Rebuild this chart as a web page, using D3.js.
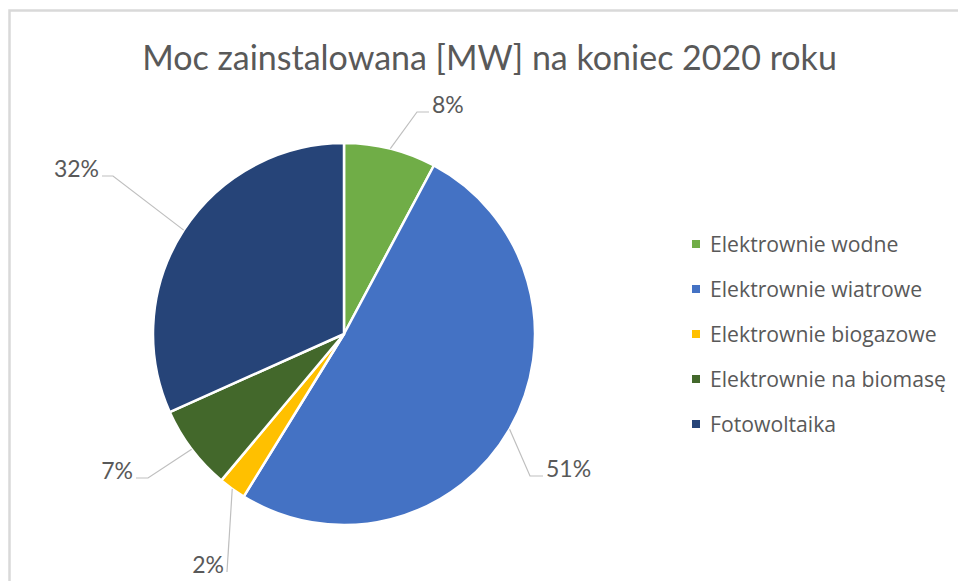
<!DOCTYPE html>
<html><head><meta charset="utf-8">
<script src="https://cdn.jsdelivr.net/npm/d3@7"></script>
<style>html,body{margin:0;padding:0;background:#fff;} svg{display:block}</style>
</head><body><svg id="c" width="958" height="581"></svg>
<script>
const title = "Moc zainstalowana [MW] na koniec 2020 roku";
const categories = ["Elektrownie wodne","Elektrownie wiatrowe","Elektrownie biogazowe","Elektrownie na biomasę","Fotowoltaika"];
const shares = [7.8, 51.0, 2.3, 7.2, 31.7];
const colors = ["#70AD47","#4472C4","#FFC000","#43682B","#264478"];
const pctLabels = ["8%","51%","2%","7%","32%"];

// layout only (label elbow offsets from pie centre, horizontal tail length)
const labelElbows = [[73,-222],[186,142],[-117,238],[-196,144],[-231,-158]];
const labelTails = [12,13,0,-12,-11];

const W = 958, H = 581;
const cx = 344, cy = 334, R = 191;
const svg = d3.select("#c");

// frame
svg.append("path").attr("d", `M9.5,${H} L9.5,10.5 L${W},10.5`)
  .attr("fill","none").attr("stroke","#d9d9d9").attr("stroke-width",2.5);

svg.append("text").attr("x", 489.5).attr("y", 70).attr("text-anchor","middle")
  .attr("font-family","Lato, 'Open Sans', sans-serif").attr("font-size",34)
  .attr("fill","#595959").text(title);

const data = categories.map((c,i)=>({cat:c, v:shares[i], color:colors[i], lab:pctLabels[i], elbow:labelElbows[i], tail:labelTails[i]}));
const pie = d3.pie().value(d=>d.v).sort(null);
const arcs = pie(data);
const arc = d3.arc().innerRadius(0).outerRadius(R);
const edge = d3.arc().innerRadius(R).outerRadius(R);

const g = svg.append("g").attr("transform",`translate(${cx},${cy})`);
g.selectAll("path.slice").data(arcs).join("path").attr("class","slice")
  .attr("d",arc).attr("fill",d=>d.data.color)
  .attr("stroke","#fff").attr("stroke-width",2.5).attr("stroke-linejoin","round");

g.selectAll("polyline").data(arcs).join("polyline")
  .attr("fill","none").attr("stroke","#bfbfbf").attr("stroke-width",1.2)
  .attr("points", d=>{
    const p = edge.centroid(d);
    const e = d.data.elbow;
    return [p, e, [e[0]+d.data.tail, e[1]]].map(q=>q.join(",")).join(" ");
  });

g.selectAll("text.lab").data(arcs).join("text").attr("class","lab")
  .attr("font-family","Lato, 'Open Sans', sans-serif").attr("font-size",23)
  .attr("fill","#595959")
  .attr("text-anchor", d=> (d.data.tail>0 || (d.data.tail===0 && d.data.elbow[0]>0)) ? "start":"end")
  .attr("x", d=>{
    const e=d.data.elbow, t=d.data.tail;
    const right = (t>0 || (t===0 && e[0]>0));
    return e[0]+t+(right?3:-3);
  })
  .attr("y", d=>d.data.elbow[1]+1)
  .text(d=>d.data.lab);

const ly = d3.scalePoint().domain(categories).range([252, 432]);
const leg = svg.append("g");
const items = leg.selectAll("g").data(data).join("g")
  .attr("transform", d=>`translate(0,${ly(d.cat)})`);
items.append("rect").attr("x",692).attr("y",-12).attr("width",8).attr("height",8).attr("fill",d=>d.color);
items.append("text").attr("x",710).attr("y",0)
  .attr("font-family","'Open Sans', sans-serif").attr("font-size",21.2)
  .attr("fill","#595959").text(d=>d.cat);
</script></body></html>
